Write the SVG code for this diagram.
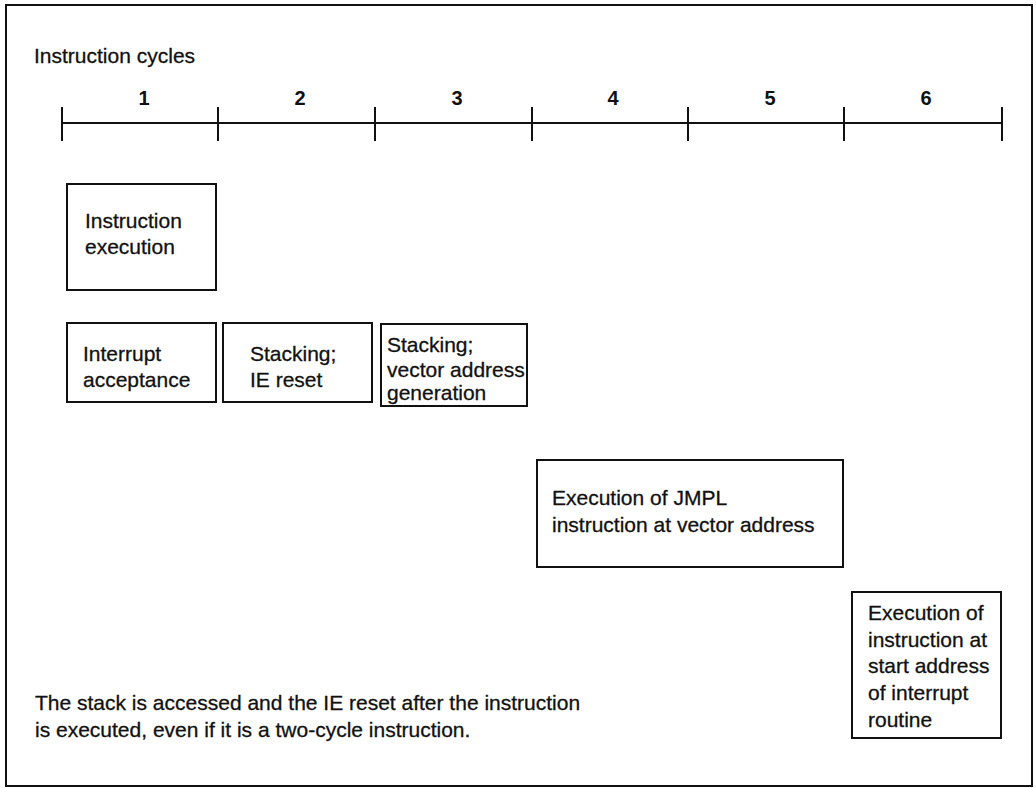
<svg xmlns="http://www.w3.org/2000/svg" width="1036" height="788" viewBox="0 0 1036 788">
<style>
.t{font-family:"Liberation Sans",Arial,Helvetica,sans-serif;font-size:21px;fill:#111;stroke:#111;stroke-width:0.3}
.n{font-family:"Liberation Sans",Arial,Helvetica,sans-serif;font-size:20px;font-weight:bold;fill:#111;text-anchor:middle}
.box{fill:#fff;stroke:#111;stroke-width:2}
.ln{stroke:#111;stroke-width:2;fill:none}
</style>
<rect x="0" y="0" width="1036" height="788" fill="#fff"/>
<rect id="frame" x="6" y="5" width="1026" height="781" class="ln"/>
<text class="t" x="34" y="63">Instruction cycles</text>
<g id="timeline">
<line class="ln" x1="62" y1="123" x2="1002" y2="123"/>
<line class="ln" x1="62" y1="107" x2="62" y2="141"/>
<line class="ln" x1="218" y1="107" x2="218" y2="141"/>
<line class="ln" x1="375" y1="107" x2="375" y2="141"/>
<line class="ln" x1="532" y1="107" x2="532" y2="141"/>
<line class="ln" x1="688" y1="107" x2="688" y2="141"/>
<line class="ln" x1="844" y1="107" x2="844" y2="141"/>
<line class="ln" x1="1002" y1="107" x2="1002" y2="141"/>
<text class="n" x="144" y="105">1</text>
<text class="n" x="300" y="105">2</text>
<text class="n" x="457" y="105">3</text>
<text class="n" x="613" y="105">4</text>
<text class="n" x="770" y="105">5</text>
<text class="n" x="926" y="105">6</text>
</g>
<g id="instr-exec">
<rect class="box" x="67" y="184" width="149" height="106"/>
<text class="t" x="85" y="228">Instruction</text>
<text class="t" x="85" y="254">execution</text>
</g>
<g id="int-accept">
<rect class="box" x="67" y="323" width="149" height="79"/>
<text class="t" x="83" y="361">Interrupt</text>
<text class="t" x="83" y="387">acceptance</text>
</g>
<g id="stack-ie">
<rect class="box" x="223" y="323" width="149" height="79"/>
<text class="t" x="250" y="361">Stacking;</text>
<text class="t" x="250" y="387">IE reset</text>
</g>
<g id="stack-vector">
<rect class="box" x="381" y="324" width="146" height="82"/>
<text class="t" x="387" y="352">Stacking;</text>
<text class="t" x="387" y="377">vector address</text>
<text class="t" x="387" y="400">generation</text>
</g>
<g id="jmpl">
<rect class="box" x="537" y="460" width="306" height="107"/>
<text class="t" x="552" y="505">Execution of JMPL</text>
<text class="t" x="552" y="532">instruction at vector address</text>
</g>
<g id="start-routine">
<rect class="box" x="852" y="592" width="149" height="146"/>
<text class="t" x="868" y="620">Execution of</text>
<text class="t" x="868" y="647">instruction at</text>
<text class="t" x="868" y="673">start address</text>
<text class="t" x="868" y="700">of interrupt</text>
<text class="t" x="868" y="727">routine</text>
</g>
<g id="note">
<text class="t" x="35" y="710">The stack is accessed and the IE reset after the instruction</text>
<text class="t" x="35" y="737">is executed, even if it is a two-cycle instruction.</text>
</g>
<g id="connectors"></g>
</svg>
